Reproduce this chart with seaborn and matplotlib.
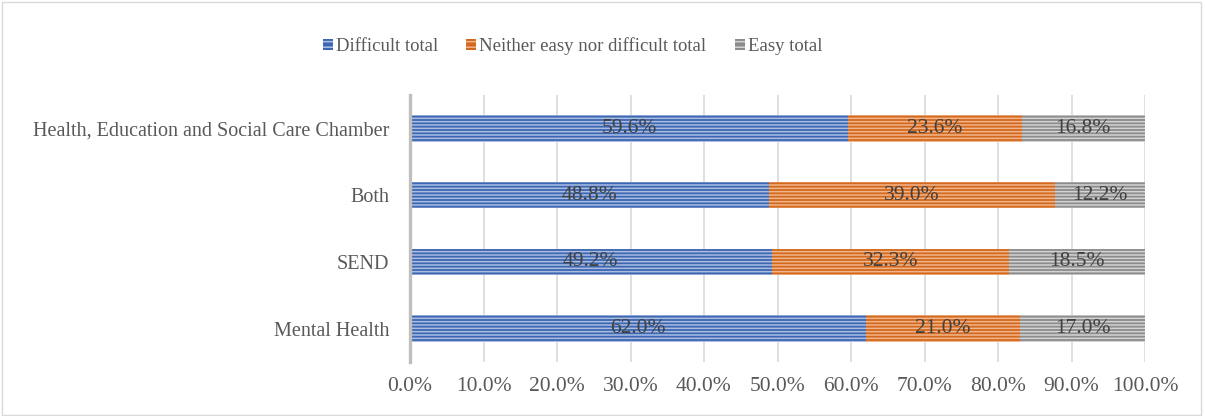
import numpy as np
import pandas as pd
import matplotlib
matplotlib.use("Agg")
import matplotlib.pyplot as plt
import seaborn as sns
from matplotlib.patches import Patch, Rectangle
from matplotlib.ticker import FuncFormatter

categories = ["Health, Education and Social Care Chamber", "Both", "SEND", "Mental Health"]
difficult = [59.6, 48.8, 49.2, 62.0]
neither = [23.6, 39.0, 32.3, 21.0]
easy = [16.8, 12.2, 18.5, 17.0]
series_names = ["Difficult total", "Neither easy nor difficult total", "Easy total"]
xticks = [0, 10, 20, 30, 40, 50, 60, 70, 80, 90, 100]

sns.set_theme(style="white")
plt.rcParams["font.family"] = ["Liberation Serif", "DejaVu Serif"]
plt.rcParams["hatch.linewidth"] = 1.1

face = ["#3E67B1", "#D2691E", "#8C8C8C"]
stripe = ["#A9BDE3", "#F2B48A", "#D3D3D3"]
txt = "#404040"
fs_num = 15.5
fs_cat = 14.5
fs_leg = 13.5

df = pd.DataFrame({"cat": categories, "d": difficult, "n": neither, "e": easy})
df["c1"] = df["d"]
df["c2"] = df["d"] + df["n"]
df["c3"] = df["d"] + df["n"] + df["e"]

fig = plt.figure(figsize=(12.05, 4.16), dpi=100)
ax = fig.add_axes([410 / 1205, 1 - 362 / 416, 735 / 1205, 267 / 416])

layers = [("c3", 2), ("c2", 1), ("c1", 0)]
for col, i in layers:
    n_before = len(ax.patches)
    sns.barplot(data=df, x=col, y="cat", order=categories, orient="h",
                color=face[i], width=0.4, ax=ax, saturation=1)
    for p in ax.patches[n_before:]:
        p.set_facecolor(face[i])
        p.set_edgecolor(stripe[i])
        p.set_linewidth(0)
        p.set_hatch("-----")
        p.set_zorder(2)

# value labels
for yi, cat in enumerate(categories):
    starts = [0, difficult[yi], difficult[yi] + neither[yi]]
    vals = [difficult[yi], neither[yi], easy[yi]]
    for s, v in zip(starts, vals):
        ax.text(s + v / 2, yi, f"{v:.1f}%", ha="center", va="center",
                fontsize=fs_num, color=txt, zorder=5)

ax.set_xlim(0, 100)
ax.set_ylim(3.5, -0.5)
ax.set_xticks(xticks)
ax.xaxis.set_major_formatter(FuncFormatter(lambda v, p: f"{v:.1f}%"))
ax.set_xlabel("")
ax.set_ylabel("")
ax.grid(axis="x", color="#d9d9d9", linewidth=1.2, zorder=0)
ax.set_axisbelow(True)
for s in ["top", "right", "bottom"]:
    ax.spines[s].set_visible(False)
ax.spines["left"].set_color("#bfbfbf")
ax.spines["left"].set_linewidth(2.4)
ax.spines["left"].set_zorder(6)
ax.tick_params(axis="x", length=0, pad=11, labelsize=fs_num, labelcolor="#595959")
ax.tick_params(axis="y", length=0, pad=15, labelsize=fs_cat, labelcolor="#595959")

handles = [Patch(facecolor=face[i], edgecolor=stripe[i], hatch="---", linewidth=0,
                 label=series_names[i]) for i in range(3)]
fig.legend(handles=handles, loc="center", bbox_to_anchor=(0.475, 1 - 46 / 416),
           ncol=3, frameon=False, fontsize=fs_leg, handlelength=0.55, handleheight=0.55,
           handletextpad=0.15, columnspacing=1.5, labelcolor="#595959")

fig.patches.append(Rectangle((0.002, 0.003), 0.995, 0.993, transform=fig.transFigure,
                             fill=False, edgecolor="#d9d9d9", linewidth=1))

fig.savefig("out.png", dpi=100)
